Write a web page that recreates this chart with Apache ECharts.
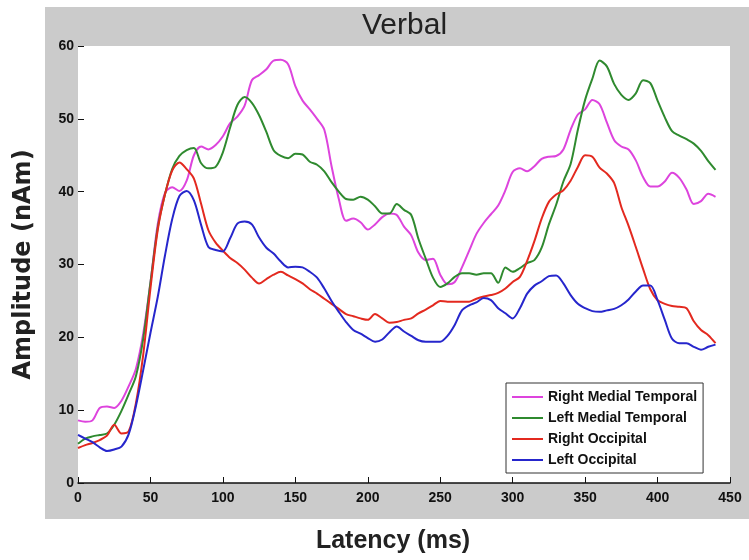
<!DOCTYPE html>
<html>
<head>
<meta charset="utf-8">
<title>Verbal</title>
<script src="https://cdn.jsdelivr.net/npm/echarts@6.0.0/dist/echarts.min.js"></script>
<style>
  html, body { margin: 0; padding: 0; background: #fff; }
  #main { width: 749px; height: 560px; }
</style>
</head>
<body>
<div id="main"></div>
<script>
  // latency in ms, one sample every 5 ms
  let latency = [
    0, 5, 10, 15, 20, 25, 30, 35, 40, 45,
    50, 55, 60, 65, 70, 75, 80, 85, 90, 95,
    100, 105, 110, 115, 120, 125, 130, 135, 140, 145,
    150, 155, 160, 165, 170, 175, 180, 185, 190, 195,
    200, 205, 210, 215, 220, 225, 230, 235, 240, 245,
    250, 255, 260, 265, 270, 275, 280, 285, 290, 295,
    300, 305, 310, 315, 320, 325, 330, 335, 340, 345,
    350, 355, 360, 365, 370, 375, 380, 385, 390, 395,
    400, 405, 410, 415, 420, 425, 430, 435, 440
  ]

  let rightMedialTemporal = [
    8.6, 8.4, 8.6, 10.3, 10.5, 10.3, 11.3, 13.3, 15.7, 20.5,
    27.5, 35.5, 39.8, 40.6, 40.1, 41.5, 45, 46.2, 45.8, 46.4,
    47.6, 49.4, 50.3, 51.8, 55.3, 56, 56.8, 58, 58.1, 57.5,
    54.5, 52.5, 51.3, 50, 48.5, 43.5, 39, 36, 36.3, 35.8,
    34.8, 35.5, 36.5, 37, 36.8, 35.2, 34, 31.6, 30.6, 30.8,
    28.6, 27.3, 27.6, 29.6, 31.9, 34.2, 35.7, 36.9, 38.1, 40.2,
    42.7, 43.2, 42.8, 43.5, 44.5, 44.8, 44.9, 45.8, 48.5, 50.6,
    51.3, 52.6, 52, 49.5, 47.1, 46.2, 45.8, 44.3, 42, 40.7,
    40.7, 41.4, 42.6, 41.9, 40.3, 38.3, 38.7, 39.7, 39.3
  ]

  let leftMedialTemporal = [
    5.4, 6.1, 6.4, 6.6, 6.8, 8.0, 9.9, 12.2, 14.7, 19.8,
    27.5, 35, 39.6, 43.1, 44.9, 45.7, 46, 43.9, 43.2, 43.4,
    45.4, 48.8, 51.9, 53, 52.2, 50.5, 48.2, 45.7, 44.9, 44.6,
    45.2, 45.1, 44.1, 43.7, 42.8, 41.3, 40, 39, 38.9, 39.3,
    38.9, 38, 37, 37, 38.3, 37.5, 36.8, 33.5, 30.8, 28.2,
    26.9, 27.4, 28.3, 28.8, 28.8, 28.6, 28.8, 28.8, 27.5, 29.6,
    29, 29.5, 30.2, 30.6, 32.3, 35.5, 38.2, 41.4, 43.8, 48.5,
    52.6, 55.5, 58, 57.2, 54.8, 53.3, 52.6, 53.5, 55.3, 54.9,
    52.5, 50.2, 48.3, 47.7, 47.2, 46.6, 45.6, 44.2, 43
  ]

  let rightOccipital = [
    4.8, 5.2, 5.5, 5.9, 6.5, 8, 6.8, 7.1, 11, 17.6,
    26.7, 34.7, 39.6, 42.9, 44, 43.1, 41.8, 38.3, 34.7, 33,
    31.9, 30.9, 30.2, 29.3, 28.2, 27.4, 28, 28.6, 29, 28.5,
    28, 27.4, 26.6, 26, 25.3, 24.6, 23.9, 23.2, 22.9, 22.6,
    22.4, 23.2, 22.6, 22, 22.1, 22.4, 22.6, 23.3, 23.8, 24.4,
    25, 24.9, 24.9, 24.9, 24.9, 25.3, 25.6, 25.8, 26.1, 26.7,
    27.6, 28.3, 30.5, 33.2, 36.3, 38.6, 39.6, 40.2, 41.5, 43.4,
    45, 44.8, 43.3, 42.5, 41.2, 37.9, 35.3, 32.4, 29.4, 26.6,
    25.1, 24.6, 24.3, 24.2, 24, 22.2, 21, 20.3, 19.2
  ]

  let leftOccipital = [
    6.6, 6.1, 5.6, 4.9, 4.4, 4.6, 5, 6.7, 10.6, 15.5,
    20.6, 25.5, 31.2, 36.2, 39.4, 40.1, 38.8, 35.4, 32.4, 32,
    31.8, 33.6, 35.6, 35.9, 35.5, 33.7, 32.3, 31.5, 30.4, 29.6,
    29.7, 29.6, 29, 28.2, 26.7, 25, 23.5, 22.1, 21, 20.5,
    19.9, 19.4, 19.7, 20.7, 21.5, 20.8, 20.2, 19.6, 19.4, 19.4,
    19.4, 20.2, 21.7, 23.7, 24.4, 24.8, 25.4, 25.1, 24, 23.3,
    22.6, 24, 26, 27.1, 27.7, 28.4, 28.5, 27.4, 25.8, 24.6,
    24, 23.6, 23.5, 23.7, 23.9, 24.4, 25.2, 26.3, 27.1, 27.1,
    25.1, 22.4, 19.8, 19.2, 19.2, 18.7, 18.3, 18.7, 19
  ]

  let seriesNames = ['Right Medial Temporal', 'Left Medial Temporal', 'Right Occipital', 'Left Occipital']
  let seriesValues = [rightMedialTemporal, leftMedialTemporal, rightOccipital, leftOccipital]
  let seriesColors = ['#dd44dd', '#2f8a2f', '#e3291f', '#2626cc']

  let labelFont = 'Liberation Sans, Arial, sans-serif'

  let chart = echarts.init(document.getElementById('main'))

  let option = {
    animation: false,
    backgroundColor: '#fff',
    title: {
      text: 'Verbal',
      left: 362,
      top: 11,
      padding: 0,
      textStyle: {
        fontFamily: labelFont,
        fontWeight: 'normal',
        fontSize: 30,
        color: '#222'
      }
    },
    graphic: [
      {
        type: 'rect',
        z: -10,
        silent: true,
        shape: { x: 45, y: 7, width: 704, height: 512 },
        style: { fill: '#cbcbcb' }
      }
    ],
    grid: {
      left: 78,
      right: 19,
      top: 46,
      bottom: 77,
      show: true,
      backgroundColor: '#fff',
      borderWidth: 0
    },
    legend: {
      data: seriesNames,
      orient: 'vertical',
      left: 506,
      top: 383,
      backgroundColor: '#fff',
      borderColor: '#333',
      borderWidth: 1,
      padding: [7, 6, 6, 6],
      itemGap: 7,
      itemWidth: 31,
      itemHeight: 2,
      icon: 'rect',
      textStyle: {
        fontFamily: labelFont,
        fontWeight: 'bold',
        fontSize: 14,
        color: '#111'
      }
    },
    xAxis: {
      type: 'value',
      min: 0,
      max: 450,
      interval: 50,
      name: 'Latency (ms)',
      nameLocation: 'middle',
      nameGap: 46,
      nameTextStyle: {
        fontFamily: labelFont,
        fontWeight: 'bold',
        fontSize: 25,
        color: '#222',
        padding: [0, 22, 0, 0]
      },
      axisLine: { show: true, lineStyle: { color: '#111', width: 1.5 } },
      axisTick: { show: true, inside: true, length: 6, lineStyle: { color: '#111' } },
      axisLabel: {
        margin: 8,
        fontFamily: labelFont,
        fontWeight: 'bold',
        fontSize: 14,
        color: '#111'
      },
      splitLine: { show: false }
    },
    yAxis: {
      type: 'value',
      min: 0,
      max: 60,
      interval: 10,
      name: 'Amplitude (nAm)',
      nameLocation: 'middle',
      nameRotate: 90,
      nameGap: 42,
      nameTextStyle: {
        fontFamily: 'DejaVu Sans, sans-serif',
        fontWeight: 'bold',
        fontSize: 24,
        color: '#222'
      },
      axisLine: { show: false },
      axisTick: { show: true, inside: true, length: 6, lineStyle: { color: '#111' } },
      axisLabel: {
        margin: 4,
        fontFamily: labelFont,
        fontWeight: 'bold',
        fontSize: 14,
        color: '#111'
      },
      splitLine: { show: false }
    },
    series: seriesNames.map(function (name, k) {
      return {
        name: name,
        type: 'line',
        symbol: 'none',
        smooth: 0.3,
        color: seriesColors[k],
        lineStyle: { width: 2, color: seriesColors[k] },
        data: latency.map(function (t, i) {
          return [t, seriesValues[k][i]]
        })
      }
    })
  }

  chart.setOption(option)
</script>
</body>
</html>
